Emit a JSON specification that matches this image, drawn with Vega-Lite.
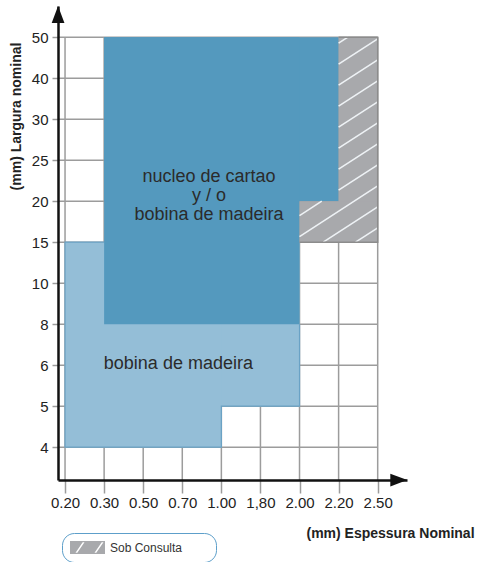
{
  "$schema": "https://vega.github.io/schema/vega-lite/v6.json",
  "autosize": {"type": "none"},
  "padding": {"left": 58, "top": 6, "right": 71, "bottom": 82},
  "width": 349,
  "height": 474,
  "background": "#ffffff",
  "config": {"view": {"stroke": null}, "font": "Liberation Sans"},
  "datasets": {
    "vgrid": [{"i": 0}, {"i": 1}, {"i": 2}, {"i": 3}, {"i": 4}, {"i": 5}, {"i": 6}, {"i": 7}, {"i": 8}],
    "hgrid": [{"j": 0}, {"j": 1}, {"j": 2}, {"j": 3}, {"j": 4}, {"j": 5}, {"j": 6}, {"j": 7}, {"j": 8}, {"j": 9}, {"j": 10}],
    "light": [{"x": 0, "x2": 6, "y": 1, "y2": 5}, {"x": 0, "x2": 4, "y": 0, "y2": 5}],
    "lightEdge": [{"o": 1, "x": 1, "y": 5}, {"o": 2, "x": 0, "y": 5}, {"o": 3, "x": 0, "y": 0}, {"o": 4, "x": 4, "y": 0}, {"o": 5, "x": 4, "y": 1}, {"o": 6, "x": 6, "y": 1}, {"o": 7, "x": 6, "y": 3}],
    "dark": [{"x": 1, "x2": 7, "y": 6, "y2": 10}, {"x": 1, "x2": 6, "y": 3, "y2": 10}],
    "gray": [{"x": 7, "x2": 8, "y": 5, "y2": 10, "legend": "Sob Consulta"}, {"x": 6, "x2": 8, "y": 5, "y2": 6, "legend": "Sob Consulta"}],
    "grayEdge": [{"o": 1, "x": 7, "y": 10}, {"o": 2, "x": 8, "y": 10}, {"o": 3, "x": 8, "y": 5}, {"o": 4, "x": 6, "y": 5}],
    "hatch": [
      {"x1": 7, "y1": 9.854, "x2": 7.237, "y2": 10},
      {"x1": 7, "y1": 9.341, "x2": 8, "y2": 9.959},
      {"x1": 7, "y1": 8.829, "x2": 8, "y2": 9.446},
      {"x1": 7, "y1": 8.317, "x2": 8, "y2": 8.934},
      {"x1": 7, "y1": 7.805, "x2": 8, "y2": 8.422},
      {"x1": 7, "y1": 7.293, "x2": 8, "y2": 7.91},
      {"x1": 7, "y1": 6.78, "x2": 8, "y2": 7.398},
      {"x1": 7, "y1": 6.268, "x2": 8, "y2": 6.885},
      {"x1": 6, "y1": 5.649, "x2": 6.569, "y2": 6},
      {"x1": 6, "y1": 5.137, "x2": 8, "y2": 6.373},
      {"x1": 6.607, "y1": 5, "x2": 8, "y2": 5.861},
      {"x1": 7.434, "y1": 5, "x2": 8, "y2": 5.349}
    ],
    "labels": [
      {"x": 3.685, "y": 6.598, "label": "nucleo de cartao\ny / o\nbobina de madeira"},
      {"x": 2.9, "y": 2.03, "label": "bobina de madeira"}
    ],
    "arrowX": [{"x": 8.54, "y": -0.8}],
    "arrowY": [{"x": -0.179, "y": 10.553}]
  },
  "layer": [
    {
      "data": {"name": "vgrid"},
      "mark": {"type": "rule", "color": "#9c9c9c", "strokeWidth": 1.5},
      "encoding": {
        "x": {"field": "i", "type": "quantitative"},
        "y": {"datum": -0.8, "type": "quantitative"},
        "y2": {"datum": 10}
      }
    },
    {
      "data": {"name": "hgrid"},
      "mark": {"type": "rule", "color": "#9c9c9c", "strokeWidth": 1.5},
      "encoding": {
        "y": {"field": "j", "type": "quantitative"},
        "x": {"datum": -0.18, "type": "quantitative"},
        "x2": {"datum": 8}
      }
    },
    {
      "data": {"name": "light"},
      "mark": {"type": "rect", "color": "#94bed7"},
      "encoding": {
        "x": {
          "field": "x", "type": "quantitative",
          "scale": {"domain": [-0.18, 8.75], "nice": false, "zero": false},
          "axis": {
            "values": [0, 1, 2, 3, 4, 5, 6, 7, 8],
            "labelExpr": "['0.20','0.30','0.50','0.70','1.00','1,80','2.00','2.20','2.50'][datum.value]",
            "grid": false, "zindex": 1,
            "domainColor": "#111111", "domainWidth": 2.5,
            "tickColor": "#9c9c9c", "tickWidth": 1.5, "tickSize": 13,
            "labelFont": "Liberation Sans", "labelFontSize": 15, "labelColor": "#222222", "labelPadding": 2,
            "labelFlush": false, "labelOverlap": false, "labelBound": false,
            "title": "(mm) Espessura Nominal", "titleFont": "Liberation Sans", "titleFontSize": 14, "titleFontWeight": "bold", "titleColor": "#222222",
            "titleX": 332, "titleY": 53, "titleAlign": "center", "titleBaseline": "middle"
          }
        },
        "x2": {"field": "x2"},
        "y": {
          "field": "y", "type": "quantitative",
          "scale": {"domain": [-0.8, 10.76], "nice": false, "zero": false},
          "axis": {
            "values": [0, 1, 2, 3, 4, 5, 6, 7, 8, 9, 10],
            "labelExpr": "['4','5','6','8','10','15','20','25','30','40','50'][datum.value]",
            "grid": false, "zindex": 1,
            "domainColor": "#111111", "domainWidth": 2.5,
            "tickColor": "#9c9c9c", "tickWidth": 1.5, "tickSize": 6,
            "labelFont": "Liberation Sans", "labelFontSize": 15, "labelColor": "#222222", "labelPadding": 4,
            "labelFlush": false, "labelOverlap": false, "labelBound": false,
            "title": "(mm) Largura nominal", "titleFont": "Liberation Sans", "titleFontSize": 14, "titleFontWeight": "bold", "titleColor": "#222222",
            "titleX": -42, "titleY": 110, "titleAngle": 270, "titleAlign": "center", "titleBaseline": "middle"
          }
        },
        "y2": {"field": "y2"}
      }
    },
    {
      "data": {"name": "lightEdge"},
      "mark": {"type": "line", "color": "#6aa2c5", "strokeWidth": 1.2},
      "encoding": {
        "x": {"field": "x", "type": "quantitative"},
        "y": {"field": "y", "type": "quantitative"},
        "order": {"field": "o"}
      }
    },
    {
      "data": {"name": "dark"},
      "mark": {"type": "rect", "color": "#5499be"},
      "encoding": {
        "x": {"field": "x", "type": "quantitative"},
        "x2": {"field": "x2"},
        "y": {"field": "y", "type": "quantitative"},
        "y2": {"field": "y2"}
      }
    },
    {
      "data": {"name": "gray"},
      "mark": {"type": "rect"},
      "encoding": {
        "x": {"field": "x", "type": "quantitative"},
        "x2": {"field": "x2"},
        "y": {"field": "y", "type": "quantitative"},
        "y2": {"field": "y2"},
        "color": {
          "field": "legend", "type": "nominal",
          "scale": {"domain": ["Sob Consulta"], "range": ["#a8a9ac"]},
          "legend": {
            "title": null, "orient": "none", "legendX": 4, "legendY": 527,
            "symbolType": "M-1,-1L4.385,-1L4.385,1L-1,1ZM-0.154,0.8L0.123,0.8L1.231,-0.8L0.954,-0.8ZM2.769,0.8L3.046,0.8L4.154,-0.8L3.877,-0.8ZM20.2,0Z",
            "symbolSize": 169, "symbolStrokeWidth": 0, "symbolOpacity": 1,
            "labelFont": "Liberation Sans", "labelFontSize": 12, "labelColor": "#333333", "labelOffset": 27,
            "padding": 8, "strokeColor": "#5d9fca", "fillColor": "#ffffff", "cornerRadius": 12
          }
        }
      }
    },
    {
      "data": {"name": "hatch"},
      "mark": {"type": "rule", "color": "#eef2f5", "strokeWidth": 1.6},
      "encoding": {
        "x": {"field": "x1", "type": "quantitative"},
        "y": {"field": "y1", "type": "quantitative"},
        "x2": {"field": "x2"},
        "y2": {"field": "y2"}
      }
    },
    {
      "data": {"name": "grayEdge"},
      "mark": {"type": "line", "color": "#8c8c8c", "strokeWidth": 1.5},
      "encoding": {
        "x": {"field": "x", "type": "quantitative"},
        "y": {"field": "y", "type": "quantitative"},
        "order": {"field": "o"}
      }
    },
    {
      "data": {"name": "labels"},
      "mark": {"type": "text", "font": "Liberation Sans", "fontSize": 18, "color": "#2b2b2b", "align": "center", "baseline": "middle", "lineBreak": "\n", "lineHeight": 19},
      "encoding": {
        "x": {"field": "x", "type": "quantitative"},
        "y": {"field": "y", "type": "quantitative"},
        "text": {"field": "label"}
      }
    },
    {
      "data": {"name": "arrowX"},
      "mark": {"type": "point", "shape": "M-1,-0.75L1,0L-1,0.75Z", "filled": true, "color": "#111111", "opacity": 1, "size": 289},
      "encoding": {
        "x": {"field": "x", "type": "quantitative"},
        "y": {"field": "y", "type": "quantitative"}
      }
    },
    {
      "data": {"name": "arrowY"},
      "mark": {"type": "point", "shape": "M-0.75,1L0,-1L0.75,1Z", "filled": true, "color": "#111111", "opacity": 1, "size": 289},
      "encoding": {
        "x": {"field": "x", "type": "quantitative"},
        "y": {"field": "y", "type": "quantitative"}
      }
    }
  ]
}
